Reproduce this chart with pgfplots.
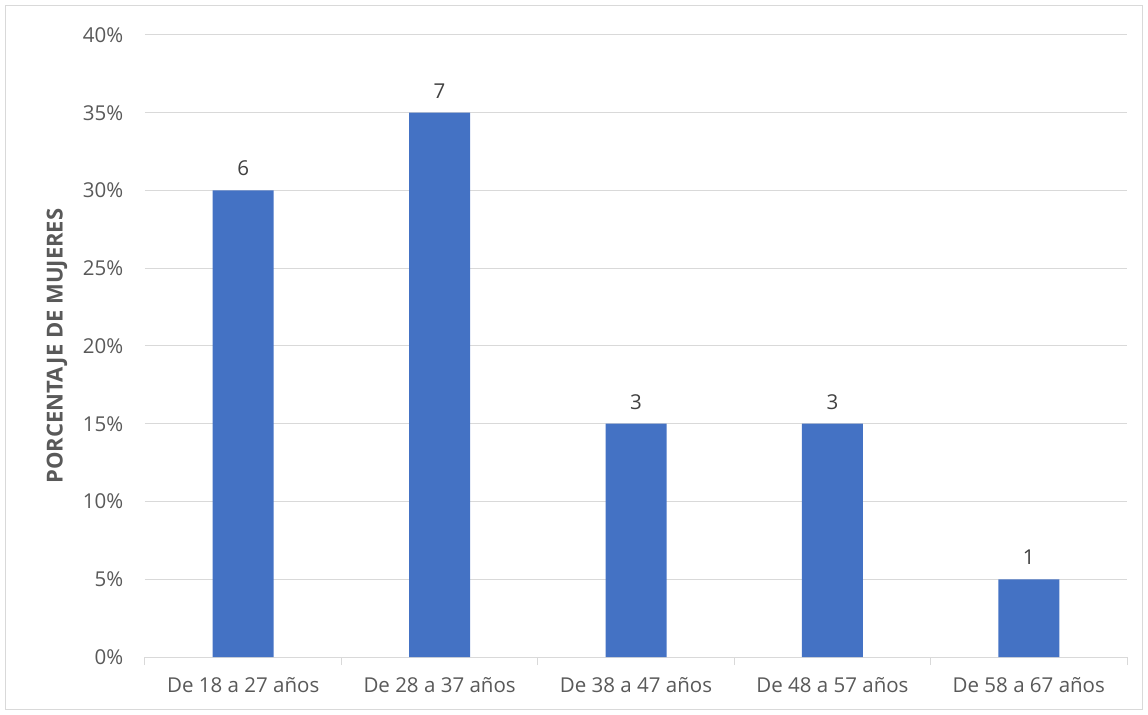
\documentclass[border=0pt]{standalone}
\usepackage{pgfplots}
\pgfplotsset{compat=1.18}
\usepackage{pgfplotstable}
\usepackage{fontspec}
\setmainfont{Open Sans}
\definecolor{barblue}{HTML}{4472C4}
\definecolor{gridgray}{HTML}{D9D9D9}
\definecolor{txtgray}{HTML}{595959}
\definecolor{lblgray}{HTML}{404040}
\pgfplotstableread{
x y n
0 30 6
1 35 7
2 15 3
3 15 3
4 5 1
}\datatable
\begin{document}
\begin{tikzpicture}[x=1bp,y=1bp]
\path (-145bp,-58bp) rectangle (1003bp,657bp);
\draw[gridgray, line width=1bp] (-139bp,-52bp) rectangle (997bp,651bp);
\begin{axis}[
  at={(0,0)}, anchor=south west,
  scale only axis, width=982bp, height=622bp,
  xmin=-0.5, xmax=4.5, ymin=0, ymax=40,
  ytick={0,5,...,40},
  xtick={0,1,2,3,4},
  xticklabels={De 18 a 27 años, De 28 a 37 años, De 38 a 47 años, De 48 a 57 años, De 58 a 67 años},
  minor xtick={-0.5,0.5,1.5,2.5,3.5,4.5},
  major x tick style={draw=none},
  minor x tick style={draw=gridgray, line width=1bp},
  minor tick length=8bp,
  tick align=outside,
  ytick style={draw=none},
  axis x line*=bottom,
  axis y line*=left,
  y axis line style={draw=none},
  x axis line style={draw=gridgray, line width=1bp, -},
  ymajorgrids, major grid style={draw=gridgray, line width=1bp},
  yticklabel={\pgfmathprintnumber{\tick}\%},
  /pgf/number format/assume math mode=true,
  ticklabel style={font=\fontsize{20.5bp}{24bp}\selectfont, text=txtgray},
  yticklabel style={xshift=-14bp},
  xticklabel style={yshift=-13bp},
  ylabel={PORCENTAJE DE MUJERES},
  ylabel style={at={(axis description cs:0,0.5)}, anchor=center, yshift=88bp, font=\fontsize{22bp}{26bp}\selectfont\bfseries, text=txtgray},
  nodes near coords,
  point meta=explicit symbolic,
  nodes near coords style={font=\fontsize{20.5bp}{24bp}\selectfont, text=lblgray, anchor=south, yshift=11bp},
  clip=false,
]
\addplot[ybar, bar width=61bp, fill=barblue, draw=none] table[x=x, y=y, meta=n] {\datatable};
\end{axis}
\end{tikzpicture}
\end{document}
